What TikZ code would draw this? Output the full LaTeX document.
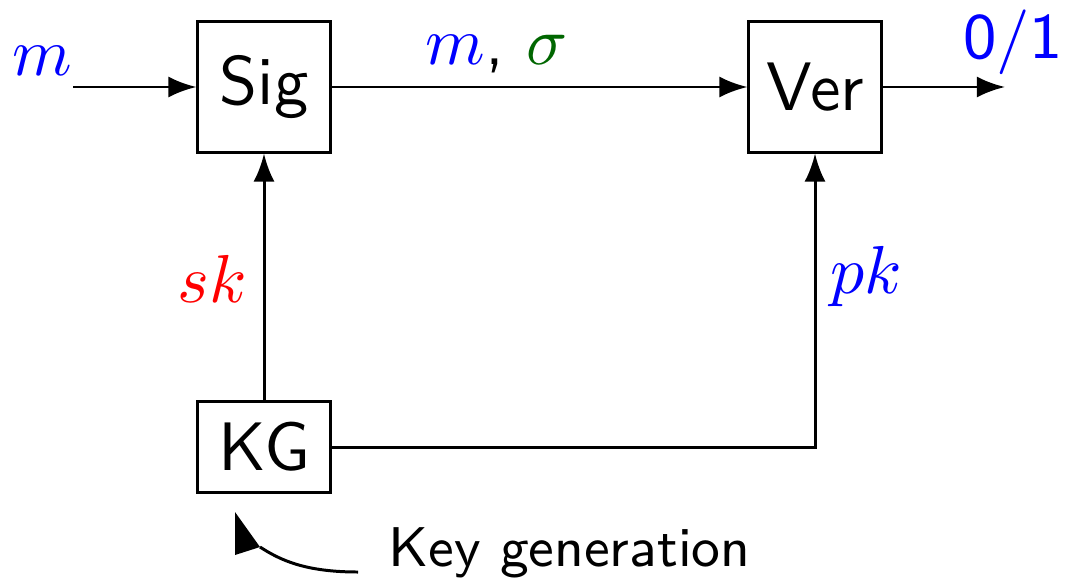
\RequirePackage{fix-cm}
\documentclass[tikz,border=0pt]{standalone}
\usetikzlibrary{arrows.meta}
\definecolor{sigblue}{rgb}{0,0,1}
\definecolor{siggreen}{rgb}{0,0.4,0}
\definecolor{sigred}{rgb}{1,0,0}
\newcommand{\mysz}[2]{\scalebox{#1}{\fontsize{10}{12}\selectfont #2}}
\newcommand{\mysf}[2]{\scalebox{#1}{\fontsize{9}{11}\selectfont #2}}
\begin{document}
\begin{tikzpicture}[x=0.01cm,y=-0.01cm,
  blk/.style={draw, line width=0.85pt, minimum width=1.32cm, inner sep=0pt, font=\sffamily},
  conn/.style={line width=0.85pt, -{Latex[length=8pt,width=6pt]}},
  lbl/.style={inner sep=0pt, anchor=base}]
\useasboundingbox (0,0) rectangle (1068,582);
\node[blk, minimum height=1.30cm] (sig) at (264,87) {\mysz{1.95}{Sig}};
\node[blk, minimum height=1.30cm] (ver) at (815,87) {\mysz{1.95}{Ver}};
\node[blk, minimum height=0.90cm] (kg) at (264,447) {\mysz{1.95}{KG}};
\coordinate (in) at (73,87);
\coordinate (out) at (1005,87);
\coordinate (corner) at (815,447);
\draw[conn] (in) -- (sig);
\draw[conn] (sig) -- (ver);
\draw[conn] (ver) -- (out);
\draw[conn] (kg) -- (sig);
\draw[conn] (kg.east) -- (corner) -- (ver.south);
\node[lbl, text=sigblue] (lm) at (42,76) {\mysz{1.93}{$m$}};
\node[lbl] (lms) at (497,65) {\mysz{1.93}{$\color{sigblue}m${\sffamily,} $\color{siggreen}\sigma$}};
\node[lbl, text=sigred] (lsk) at (212,302) {\mysz{1.93}{$sk$}};
\node[lbl, text=sigblue] (lpk) at (866,293) {\mysz{1.93}{$pk$}};
\node[lbl, text=sigblue, font=\sffamily] (l01) at (1013,59) {\mysf{2.05}{0/1}};
\node[inner sep=0pt, anchor=base west, font=\sffamily] (keygen) at (388,566) {\mysf{1.77}{Key generation}};
\coordinate (kgtail) at ([shift={(-30,6)}]keygen.base west);
\coordinate (tipbase) at (260,547);
\coordinate (tiptop) at (235,512);
\coordinate (tipbot) at (235,555);
\draw[line width=0.85pt] (kgtail) .. controls (305,572) and (280,560) .. (tipbase);
\fill (tipbase) -- (tiptop) -- (tipbot) -- cycle;
\end{tikzpicture}
\end{document}
